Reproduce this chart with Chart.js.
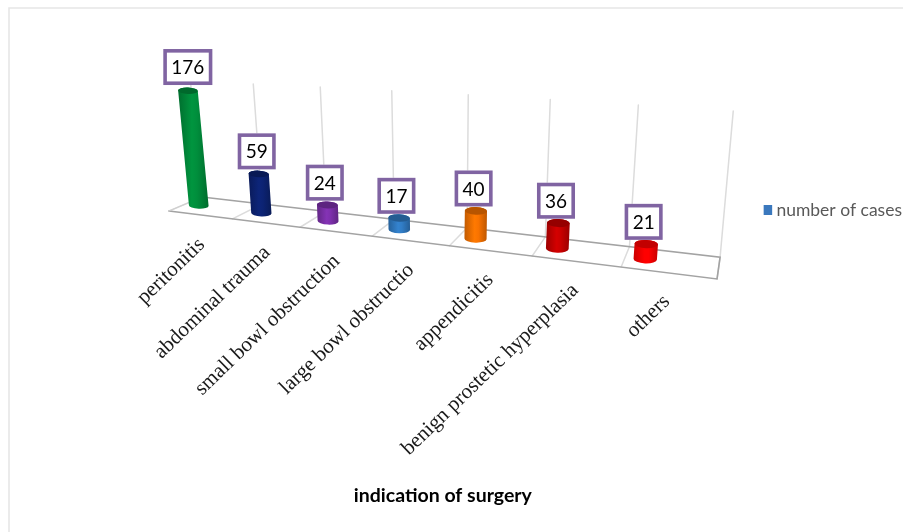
<!DOCTYPE html>
<html>
<head>
<meta charset="utf-8">
<title>Indication of surgery</title>
<style>
  html, body { margin: 0; padding: 0; background: #fff; }
  #wrap { position: relative; width: 903px; height: 532px; }
</style>
<script src="https://cdn.jsdelivr.net/npm/chart.js@4/dist/chart.umd.min.js"></script>
</head>
<body>
<div id="wrap"><canvas id="chart" width="903" height="532"></canvas></div>
<script>
const categories = [
  'peritonitis',
  'abdominal trauma',
  'small bowl obstruction',
  'large bowl obstructio',
  'appendicitis',
  'benign prostetic hyperplasia',
  'others'
];
const cases = [176, 59, 24, 17, 40, 36, 21];
const barColors = ['#008a3a', '#0c2270', '#7a2fa8', '#3079c0', '#f27000', '#c40000', '#ff0000'];
const seriesName = 'number of cases';
const axisTitle = 'indication of surgery';
const legendColor = '#3a78bd';

// Camera used to lay the flat chart area onto a receding floor.
const view = {
  frontLeft: [169, 211], frontSlope: 0.124, frontA: 394.6,
  backLeft: [202, 197], backSlope: 0.116, backA: 364,
  persp: -0.214,
  barDepth: 0.5, barShift: -0.04
};

function floorPoint(u, d) {
  const w = 1 + view.persp * u;
  const fx = (view.frontA * u + view.frontLeft[0]) / w;
  const bx = (view.backA * u + view.backLeft[0]) / w;
  const fy = view.frontLeft[1] + view.frontSlope * (fx - view.frontLeft[0]);
  const by = view.backLeft[1] + view.backSlope * (bx - view.backLeft[0]);
  return [fx + (bx - fx) * d, fy + (by - fy) * d];
}
const lean = u => -0.1 + 0.19 * u;

function shade(hex, k) {
  const n = parseInt(hex.slice(1), 16);
  const c = [n >> 16, (n >> 8) & 255, n & 255].map(v => Math.min(255, Math.round(v * k)));
  return `rgb(${c[0]},${c[1]},${c[2]})`;
}

function drawCylinder(ctx, base, top, rx, ry, color) {
  const tilt = 0.04;
  const grad = ctx.createLinearGradient(Math.min(base[0], top[0]) - rx, 0, Math.max(base[0], top[0]) + rx, 0);
  grad.addColorStop(0, shade(color, 0.8));
  grad.addColorStop(0.45, shade(color, 1.08));
  grad.addColorStop(0.62, shade(color, 1.03));
  grad.addColorStop(1, shade(color, 0.78));
  ctx.beginPath();
  ctx.ellipse(base[0], base[1], rx, ry, tilt, 0, Math.PI);
  ctx.ellipse(top[0], top[1], rx, ry, tilt, Math.PI, 2 * Math.PI);
  ctx.closePath();
  ctx.fillStyle = grad;
  ctx.fill();
  ctx.beginPath();
  ctx.ellipse(top[0], top[1], rx, ry, tilt, 0, 2 * Math.PI);
  ctx.fillStyle = shade(color, 0.76);
  ctx.fill();
}

const floorChart = {
  id: 'floorChart',
  beforeDraw(chart) {
    const ctx = chart.ctx;
    // Thin frame along the top and left of the figure.
    ctx.save();
    ctx.strokeStyle = '#e6e6e6';
    ctx.lineWidth = 1.6;
    ctx.beginPath();
    ctx.moveTo(9, chart.height);
    ctx.lineTo(9, 8);
    ctx.lineTo(chart.width, 8);
    ctx.stroke();
    ctx.restore();
  },
  beforeDatasetsDraw(chart) {
    const ctx = chart.ctx;
    const area = chart.chartArea;
    const x = chart.scales.x;
    const y = chart.scales.y;
    const toU = px => (px - area.left) / area.width;

    ctx.save();
    ctx.lineCap = 'round';

    // Wall gridlines and floor dividers, one per category boundary.
    const wallTop = (y.getPixelForValue(0) - y.getPixelForValue(y.max)) / area.height;
    categories.concat(['']).forEach((_, k) => {
      const u = toU(x.getPixelForValue(k - 0.5));
      const back = floorPoint(u, 1);
      const front = floorPoint(u, 0);
      const rise = wallTop * (115.6 + 30.4 * u);
      ctx.strokeStyle = '#dcdcdc';
      ctx.lineWidth = 1.5;
      ctx.beginPath();
      ctx.moveTo(front[0], front[1]);
      ctx.lineTo(back[0], back[1]);
      ctx.lineTo(back[0] + rise * lean(u), back[1] - rise);
      ctx.stroke();
    });

    // Floor outline.
    const fr = floorPoint(1, 0), br = floorPoint(1, 1), fl = floorPoint(0, 0), bl = floorPoint(0, 1);
    ctx.strokeStyle = '#a3a3a3';
    ctx.lineWidth = 1.6;
    ctx.beginPath();
    ctx.moveTo(bl[0], bl[1]);
    ctx.lineTo(br[0], br[1]);
    ctx.lineTo(fr[0], fr[1]);
    ctx.lineTo(fl[0], fl[1]);
    ctx.stroke();
    ctx.strokeStyle = '#cfcfcf';
    ctx.lineWidth = 1.2;
    ctx.beginPath();
    ctx.moveTo(fl[0], fl[1]);
    ctx.lineTo(bl[0], bl[1]);
    ctx.stroke();

    const bars = chart.getDatasetMeta(0).data;
    const tops = [];

    // Cylinders.
    bars.forEach((bar, i) => {
      const u = toU(bar.x) + view.barShift;
      const base = floorPoint(u, view.barDepth);
      const rise = (bar.base - bar.y) / area.height * (130 + 16 * u);
      const top = [base[0] + rise * lean(u), base[1] - rise];
      const rx = bar.width / 2 * (1 + 0.22 * u);
      const ry = 3.1 + 1.2 * u;
      drawCylinder(ctx, base, top, rx, ry, barColors[i]);
      tops.push([top[0], top[1], rise]);
    });

    // Value boxes above each cylinder.
    ctx.font = '19px Lato';
    ctx.textAlign = 'center';
    ctx.textBaseline = 'middle';
    bars.forEach((bar, i) => {
      const text = String(cases[i]);
      const w = ctx.measureText(text).width + 16;
      const h = 36;
      const cx = tops[i][0] - 3 + tops[i][2] * 0.025;
      const cy = tops[i][1] - 22 - tops[i][2] * 0.015;
      ctx.fillStyle = '#ffffff';
      ctx.fillRect(cx - w / 2, cy - h / 2, w, h);
      ctx.strokeStyle = '#8064a2';
      ctx.lineWidth = 3.6;
      ctx.strokeRect(cx - w / 2 + 1.8, cy - h / 2 + 1.8, w - 3.6, h - 3.6);
      ctx.fillStyle = '#000000';
      ctx.fillText(text, cx, cy + 1);
    });

    // Slanted category names under the front edge of the floor.
    ctx.font = '21px "Liberation Serif"';
    ctx.textAlign = 'right';
    ctx.fillStyle = '#1a1a1a';
    bars.forEach((bar, i) => {
      const u = toU(bar.x) + view.barShift;
      const p = floorPoint(u, 0);
      ctx.save();
      ctx.translate(p[0] + 19 + 7 * u, p[1] + 29);
      ctx.rotate(-44 * Math.PI / 180);
      ctx.fillText(x.getLabelForValue(i), 0, 0);
      ctx.restore();
    });

    ctx.restore();
    return false;
  }
};

new Chart(document.getElementById('chart'), {
  type: 'bar',
  data: {
    labels: categories,
    datasets: [{
      label: seriesName,
      data: cases,
      backgroundColor: barColors,
      categoryPercentage: 1,
      barPercentage: 0.25
    }]
  },
  plugins: [floorChart],
  options: {
    responsive: false,
    animation: false,
    events: [],
    layout: { padding: { left: 169, top: 60, right: -9, bottom: 23 } },
    plugins: {
      tooltip: { enabled: false },
      legend: {
        display: true,
        position: 'right',
        fullSize: false,
        labels: {
          usePointStyle: true,
          boxWidth: 1,
          boxHeight: 10,
          padding: 3,
          color: '#595959',
          font: { family: 'Lato', size: 17.5 },
          generateLabels: () => [{
            text: seriesName,
            fillStyle: legendColor,
            strokeStyle: legendColor,
            lineWidth: 0,
            pointStyle: 'rect',
            fontColor: '#595959',
            hidden: false,
            datasetIndex: 0
          }]
        }
      }
    },
    scales: {
      x: {
        type: 'category',
        offset: true,
        grid: { display: false },
        border: { display: false },
        ticks: { display: false },
        title: {
          display: true,
          text: axisTitle,
          color: '#000000',
          font: { family: 'Lato', size: 19.5, weight: 'bold' },
          padding: { top: 0, bottom: 2 }
        },
        afterFit(scale) { scale.height = 149; }
      },
      y: {
        position: 'right',
        min: 0,
        max: 200,
        grid: { display: false },
        border: { display: false },
        ticks: { display: false },
        afterFit(scale) { scale.width = 47; }
      }
    }
  }
});
</script>
</body>
</html>
